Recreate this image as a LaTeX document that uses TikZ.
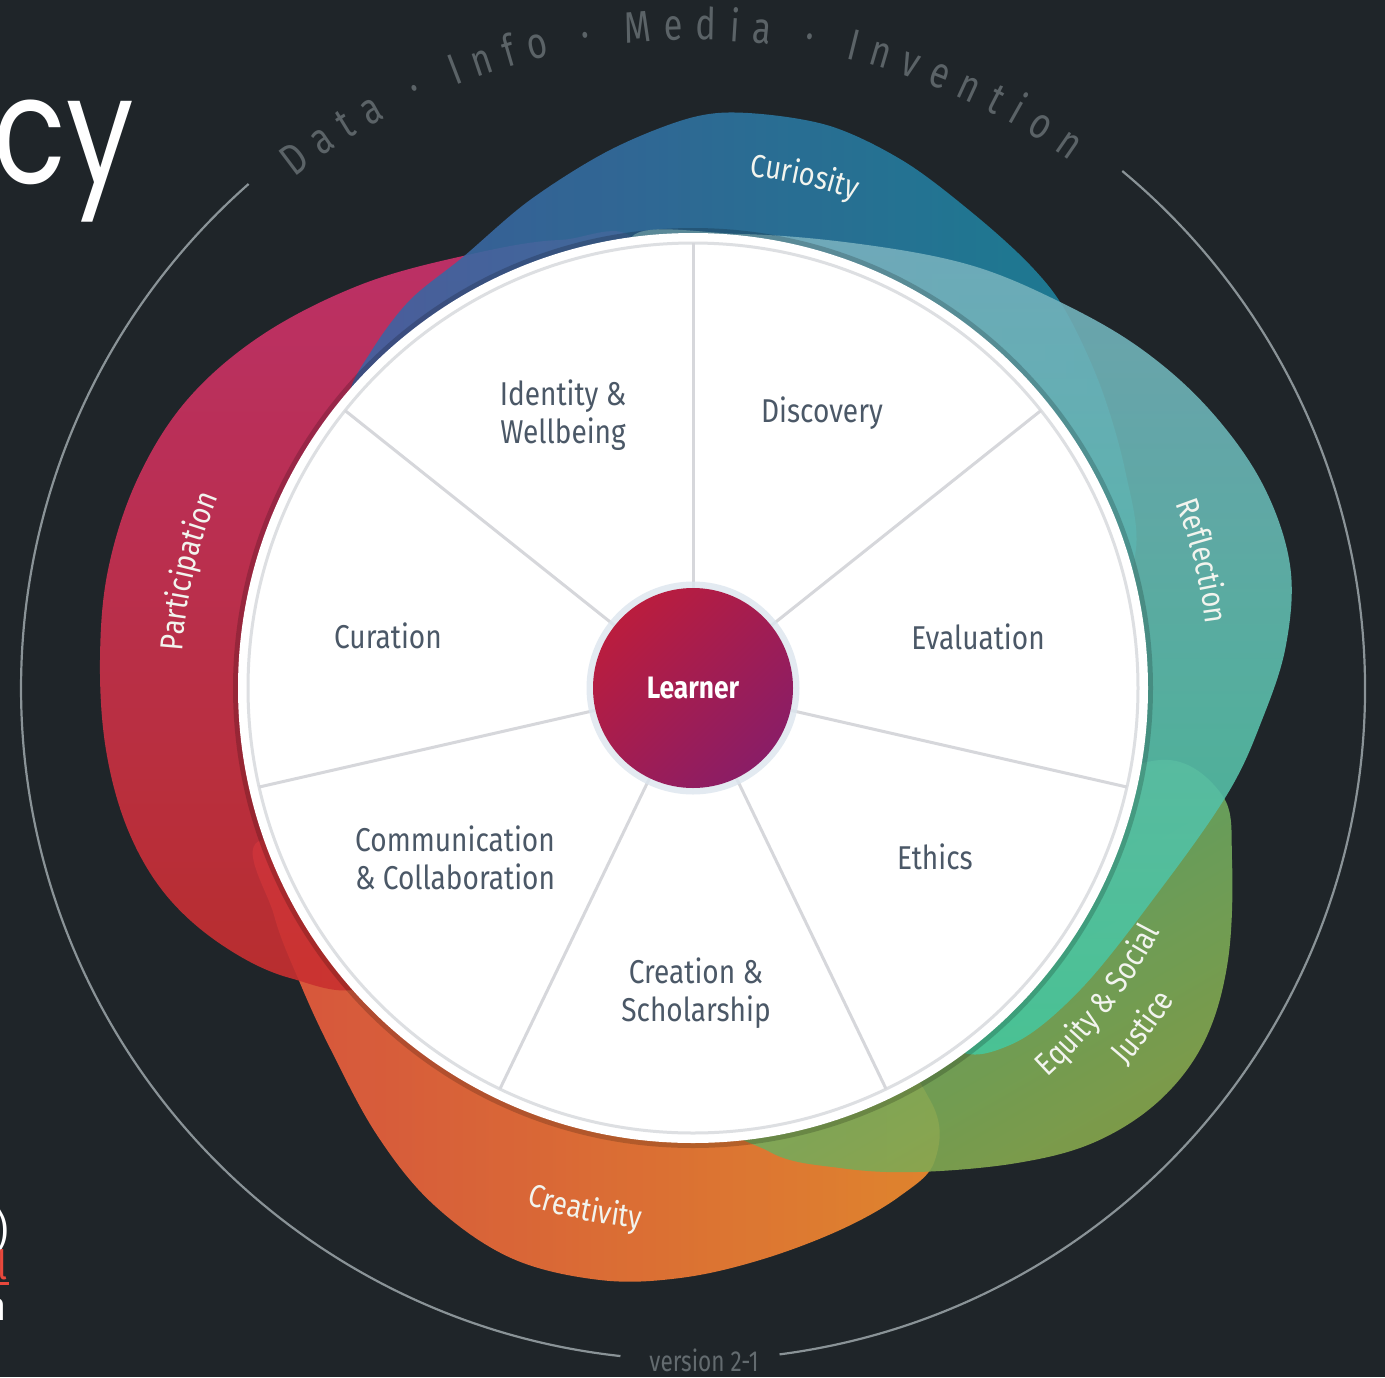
\documentclass[tikz,border=0pt]{standalone}
\usepackage{fontspec}
\setmainfont{Fira Sans}[FakeStretch=0.85]
\newfontfamily\bigfont{Poppins}
\newfontfamily\arcfont{Fira Sans}[FakeStretch=0.78]
\newfontfamily\verfont{Fira Sans}[FakeStretch=0.78]
\usetikzlibrary{decorations.text}
\definecolor{bg}{HTML}{1F2529}
\definecolor{ringc}{HTML}{8A9397}
\definecolor{arcc}{HTML}{5B6367}
\definecolor{segc}{HTML}{4B5867}
\definecolor{spokec}{HTML}{D6D7DB}
\definecolor{rimc}{HTML}{DDDFE2}
\definecolor{petalfg}{HTML}{F2F4EE}
\definecolor{partTop}{HTML}{CC3270}
\definecolor{partBot}{HTML}{C9302E}
\definecolor{creaL}{HTML}{EA5840}
\definecolor{creaR}{HTML}{F48F2E}
\definecolor{equiT}{HTML}{5AAE72}
\definecolor{equiB}{HTML}{88A74C}
\definecolor{reflT}{HTML}{78AFBF}
\definecolor{reflB}{HTML}{45C79B}
\definecolor{curiL}{HTML}{3F62A2}
\definecolor{curiR}{HTML}{1A869C}
\definecolor{lrnA}{HTML}{BA1D3E}
\definecolor{lrnB}{HTML}{8A1D66}
\definecolor{haloc}{HTML}{DCE5EE}
\definecolor{linkred}{HTML}{E8483C}
\newcommand\pfont{\fontsize{32}{32}\selectfont}
\begin{document}
\begin{tikzpicture}[x=1pt,y=1pt,
  seg/.style={text=segc, align=center, font=\fontsize{33}{38}\selectfont, inner sep=0pt},
  spoke/.style={draw=spokec, line width=3pt},
  ring/.style={draw=ringc, line width=2.2pt},
  petal/.style={fill opacity=0.9},
  ptext/.style={decorate, decoration={text along path, text align=center, text color=petalfg, text={#1}}},
]
\fill[bg] (0,0) rectangle (1385,-1377);
\useasboundingbox (0,0) rectangle (1385,-1377);
\coordinate (C) at (693,-688);

% left cropped title fragments
\node[anchor=base east, text=white, font=\bigfont\fontsize{150}{150}\selectfont, inner sep=0pt] (title) at (134,-183) {\scalebox{0.8}[1]{cy}};
\node[anchor=base east, text=white, font=\fontsize{44}{44}\selectfont, inner sep=0pt] (fragA) at (9,-1246) {)};
\node[anchor=base east, text=linkred, font=\fontsize{40}{40}\selectfont, inner sep=0pt] (fragB) at (8,-1279) {l};
\fill[linkred] (0,-1282) rectangle (9,-1285);
\node[anchor=base east, text=white, font=\fontsize{40}{40}\selectfont, inner sep=0pt] (fragC) at (7,-1320) {n};

% outer thin ring
\begin{scope}[shift={(693,-688)}]
\draw[ring] (131.4:672) arc[start angle=131.4, end angle=263.8, radius=672];
\draw[ring] (-82.6:672) arc[start angle=-82.6, end angle=50.3, radius=672];
\path[decorate, decoration={text along path, text align={fit to path}, text color=arcc,
  text={|\arcfont\fontsize{44}{44}\selectfont|Data · Info · Media · Invention}}]
  (128:648) arc[start angle=128, end angle=54.5, radius=648];
\end{scope}
\node[anchor=base, text=arcc!95!white, font=\verfont\fontsize{29}{29}\selectfont, inner sep=0pt] (version) at (704,-1371) {version 2-1};

% petals
\begin{scope}[petal]
\shade[left color=creaL, right color=creaR] plot[smooth cycle, tension=0.6] coordinates {
 (262,-840) (274,-915) (300,-983) (330,-1048) (377,-1135) (434,-1205) (511,-1258) (600,-1280)
 (680,-1278) (760,-1260) (840,-1230) (900,-1196) (935,-1160) (930,-1100) (850,-1010)
 (650,-950) (420,-880)};
\shade[top color=partTop, bottom color=partBot] plot[smooth cycle, tension=0.6] coordinates {
 (640,-250) (560,-240) (463,-256) (360,-285) (262,-335) (187,-400) (137,-480) (108,-570)
 (100,-660) (106,-750) (128,-830) (166,-895) (222,-945) (290,-978) (370,-985) (460,-900)
 (560,-700) (640,-450)};
\shade[top color=equiT, bottom color=equiB, shading angle=30] plot[smooth cycle, tension=0.6] coordinates {
 (1160,-760) (1222,-795) (1232,-860) (1228,-960) (1205,-1040) (1160,-1100) (1095,-1142)
 (1017,-1163) (917,-1172) (840,-1168) (770,-1152) (720,-1100) (850,-950) (1050,-810)};
\shade[left color=curiL, right color=curiR] plot[smooth cycle, tension=0.55] coordinates {
 (350,-396) (372,-350) (410,-300) (463,-257) (530,-200) (610,-150) (690,-118) (748,-113) (830,-126)
 (905,-162) (975,-215) (1030,-265) (1065,-310) (1100,-385) (1125,-470) (1135,-555)
 (1090,-640) (850,-600) (550,-520) (380,-430)};
\shade[top color=reflT, bottom color=reflB] plot[smooth cycle, tension=0.6] coordinates {
 (630,-240) (740,-234) (860,-244) (970,-265) (1060,-302) (1140,-348) (1208,-408) (1262,-483)
 (1290,-565) (1286,-645) (1262,-720) (1228,-793) (1160,-890) (1080,-990) (1010,-1045)
 (950,-1045) (900,-950) (850,-600) (700,-350)};
\end{scope}

% petal labels
\begin{scope}[shift={(693,-688)}]
\path[ptext={|\pfont|Curiosity}] (97.7:515) arc[start angle=97.7, end angle=57.7, radius=515];
\path[ptext={|\pfont|Reflection}] (39:517) arc[start angle=39, end angle=-11, radius=517];
\path[ptext={|\pfont|Participation}] (197:512) arc[start angle=197, end angle=137, radius=512];
\path[ptext={|\pfont|Creativity}] (-126.7:543) arc[start angle=-126.7, end angle=-76.7, radius=543];
\path[ptext={|\pfont|Equity {\&} Social}] (-67.6:527) arc[start angle=-67.6, end angle=-7.6, radius=527];
\path[ptext={|\pfont|Justice}] (-62:574) arc[start angle=-62, end angle=-12, radius=574];
\end{scope}

% wheel
\fill[black, opacity=0.18] (C) circle (460);
\fill[white] (C) circle (455);
\draw[rimc, line width=3pt] (C) circle (445);
\begin{scope}[shift={(693,-688)}]
\foreach \k in {0,...,6} {
  \draw[spoke] ({90-\k*51.4286}:100) -- ({90-\k*51.4286}:445);
}
\end{scope}
\draw[haloc, line width=7pt, opacity=0.8] (C) circle (103);
\shade[top color=lrnA, bottom color=lrnB, shading angle=45] (C) circle (100);
\node[text=white, font=\bfseries\fontsize{31}{31}\selectfont] (learner) at (C) {Learner};

\node[seg] (identity) at (563,-415) {Identity \&\\Wellbeing};
\node[seg] (discovery) at (822,-413) {Discovery};
\node[seg] (curation) at (388,-636) {Curation};
\node[seg] (evaluation) at (978,-637) {Evaluation};
\node[seg] (communication) at (455,-858) {Communication\\\& Collaboration};
\node[seg] (ethics) at (935,-857) {Ethics};
\node[seg] (creation) at (696,-993) {Creation \&\\Scholarship};
\end{tikzpicture}
\end{document}
